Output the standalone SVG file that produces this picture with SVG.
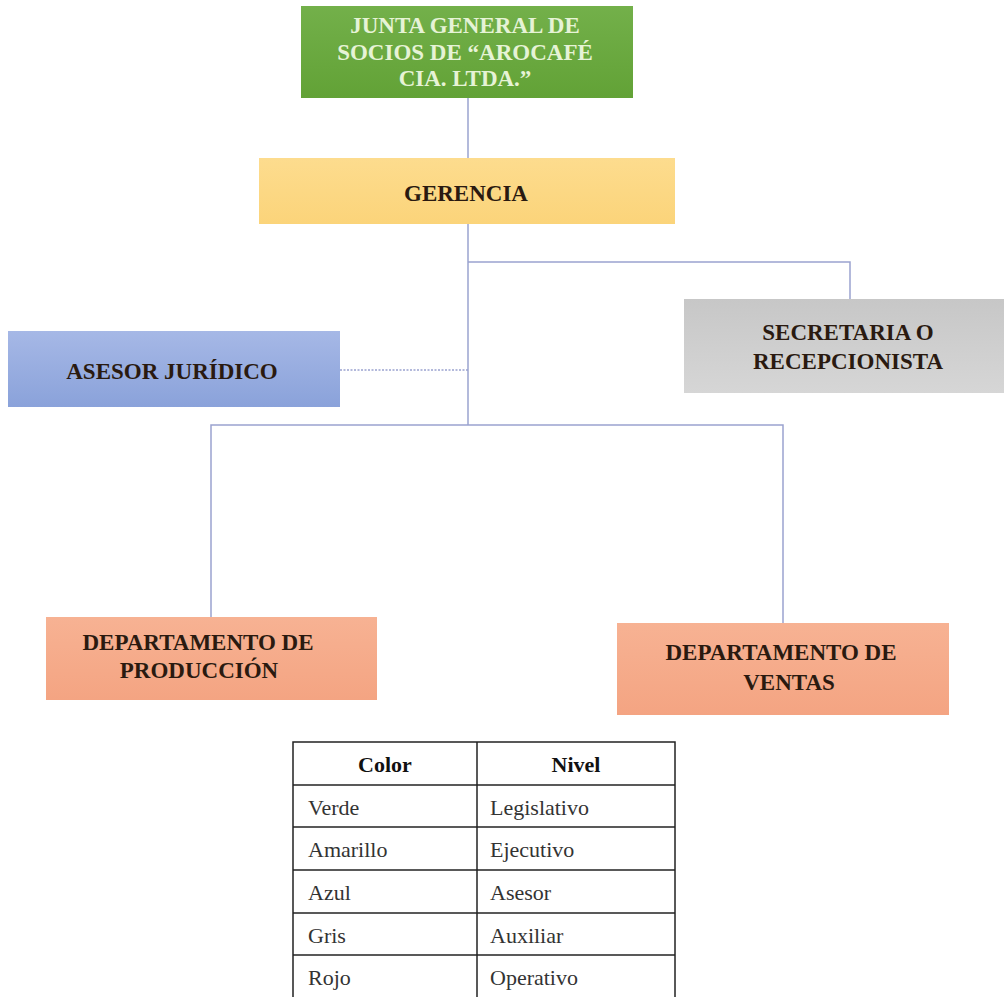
<svg xmlns="http://www.w3.org/2000/svg" width="1004" height="997" viewBox="0 0 1004 997">
<defs>
<linearGradient id="gGreen" x1="0" y1="0" x2="0" y2="1"><stop offset="0" stop-color="#73b04a"/><stop offset="1" stop-color="#62a236"/></linearGradient>
<linearGradient id="gGold" x1="0" y1="0" x2="0" y2="1"><stop offset="0" stop-color="#fddc8e"/><stop offset="1" stop-color="#fbd47a"/></linearGradient>
<linearGradient id="gBlue" x1="0" y1="0" x2="0" y2="1"><stop offset="0" stop-color="#a6b8e6"/><stop offset="1" stop-color="#8aa2da"/></linearGradient>
<linearGradient id="gGrey" x1="0" y1="0" x2="0" y2="1"><stop offset="0" stop-color="#c7c7c7"/><stop offset="1" stop-color="#d6d6d6"/></linearGradient>
<linearGradient id="gSalmon" x1="0" y1="0" x2="0" y2="1"><stop offset="0" stop-color="#f7b293"/><stop offset="1" stop-color="#f4a482"/></linearGradient>
</defs>
<style>
.lbl{font-family:"Liberation Serif","Times New Roman",serif;font-weight:bold;font-size:23px;text-anchor:middle;fill:#2a1a10}
.cell{font-family:"Liberation Serif","Times New Roman",serif;font-size:22px;fill:#333}
.hdr{font-family:"Liberation Serif","Times New Roman",serif;font-size:22px;font-weight:bold;fill:#111;text-anchor:middle}
.conn{fill:none;stroke:#9aa3cf;stroke-width:1.5}
.grid{stroke:#222;stroke-width:1.5;fill:none}
</style>
<rect width="1004" height="997" fill="#ffffff"/>
<g id="connectors">
<line class="conn" x1="468" y1="98" x2="468" y2="158"/>
<line class="conn" x1="468" y1="224" x2="468" y2="425"/>
<polyline class="conn" points="468,262 850,262 850,299"/>
<line class="conn" x1="340" y1="370" x2="468" y2="370" stroke-dasharray="2,1.5"/>
<polyline class="conn" points="211,617 211,425 783,425 783,623"/>
</g>
<g id="node-junta">
<rect x="301" y="6" width="332" height="92" fill="url(#gGreen)"/>
<text class="lbl" x="465" y="33" style="fill:#e6f3d6">JUNTA GENERAL DE</text>
<text class="lbl" x="465" y="60" style="fill:#e6f3d6">SOCIOS DE “AROCAFÉ</text>
<text class="lbl" x="465" y="86" style="fill:#e6f3d6">CIA. LTDA.”</text>
</g>
<g id="node-gerencia">
<rect x="259" y="158" width="416" height="66" fill="url(#gGold)"/>
<text class="lbl" x="466" y="201">GERENCIA</text>
</g>
<g id="node-asesor">
<rect x="8" y="331" width="332" height="76" fill="url(#gBlue)"/>
<text class="lbl" x="172" y="379">ASESOR JURÍDICO</text>
</g>
<g id="node-secretaria">
<rect x="684" y="299" width="320" height="94" fill="url(#gGrey)"/>
<text class="lbl" x="848" y="340">SECRETARIA O</text>
<text class="lbl" x="848" y="369">RECEPCIONISTA</text>
</g>
<g id="node-produccion">
<rect x="46" y="617" width="331" height="83" fill="url(#gSalmon)"/>
<text class="lbl" x="198" y="650">DEPARTAMENTO DE</text>
<text class="lbl" x="199" y="678">PRODUCCIÓN</text>
</g>
<g id="node-ventas">
<rect x="617" y="623" width="332" height="92" fill="url(#gSalmon)"/>
<text class="lbl" x="781" y="660">DEPARTAMENTO DE</text>
<text class="lbl" x="789" y="690">VENTAS</text>
</g>
<g id="legend">
<rect class="grid" x="293" y="742" width="382" height="260"/>
<line class="grid" x1="477" y1="742" x2="477" y2="997"/>
<line class="grid" x1="293" y1="785" x2="675" y2="785"/>
<line class="grid" x1="293" y1="827" x2="675" y2="827"/>
<line class="grid" x1="293" y1="870" x2="675" y2="870"/>
<line class="grid" x1="293" y1="913" x2="675" y2="913"/>
<line class="grid" x1="293" y1="955" x2="675" y2="955"/>
<text class="hdr" x="385" y="772">Color</text>
<text class="hdr" x="576" y="772">Nivel</text>
<text class="cell" x="308" y="815">Verde</text>
<text class="cell" x="490" y="815">Legislativo</text>
<text class="cell" x="308" y="857">Amarillo</text>
<text class="cell" x="490" y="857">Ejecutivo</text>
<text class="cell" x="308" y="900">Azul</text>
<text class="cell" x="490" y="900">Asesor</text>
<text class="cell" x="308" y="943">Gris</text>
<text class="cell" x="490" y="943">Auxiliar</text>
<text class="cell" x="308" y="985">Rojo</text>
<text class="cell" x="490" y="985">Operativo</text>
</g>
</svg>
